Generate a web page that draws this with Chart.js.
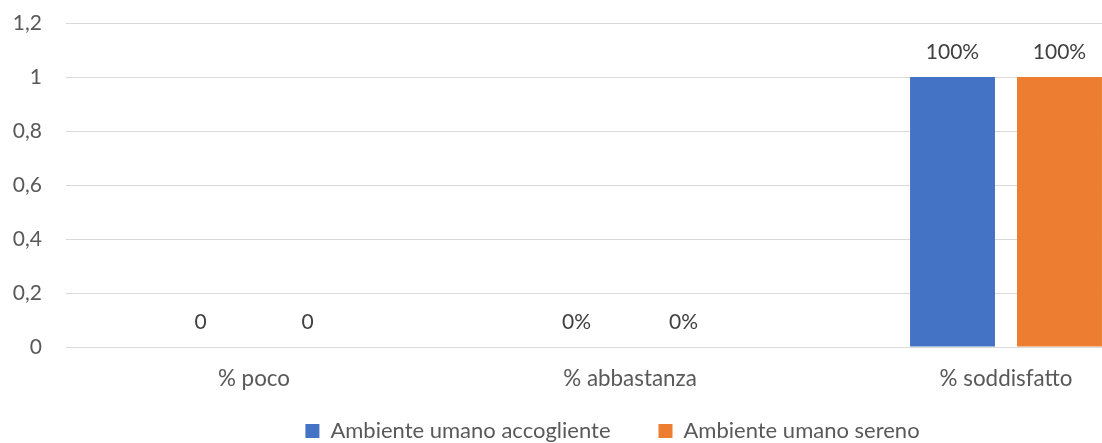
<!DOCTYPE html>
<html><head><meta charset="utf-8">
<script src="https://cdn.jsdelivr.net/npm/chart.js@4.4.0/dist/chart.umd.min.js"></script>
<style>
html,body{margin:0;padding:0;background:#fff;overflow:hidden;width:1102px;height:443px}
#wrap{width:1200px;height:443px;position:relative}
canvas{display:block}
</style></head>
<body><div id="wrap"><canvas id="c" width="1200" height="443"></canvas></div>
<script>
const categories = ['% poco', '% abbastanza', '% soddisfatto'];
const seriesNames = ['Ambiente umano accogliente', 'Ambiente umano sereno'];
const accoglienteValues = [0, 0, 1];
const serenoValues = [0, 0, 1];
const accoglienteLabels = ['0', '0%', '100%'];
const serenoLabels = ['0', '0%', '100%'];
const yTickLabels = ['0', '0,2', '0,4', '0,6', '0,8', '1', '1,2'];

const FONT = 'Lato';
const FS = 21;
const XFS = 22.4;
const LFS = 22;
const LEGEND_PAD = 48;
const BOX = 14;

const barLabels = {
  id: 'barLabels',
  afterDatasetsDraw(chart) {
    const ctx = chart.ctx;
    ctx.save();
    ctx.font = FS + 'px ' + FONT;
    ctx.fillStyle = '#404040';
    ctx.textAlign = 'center';
    ctx.textBaseline = 'middle';
    chart.data.datasets.forEach((ds, di) => {
      const meta = chart.getDatasetMeta(di);
      meta.data.forEach((el, i) => {
        ctx.fillText(ds.valueLabels[i], el.x, el.y - 24.5);
      });
    });
    ctx.restore();
  }
};

const legendPlace = {
  id: 'legendPlace',
  afterLayout(chart) {
    const lg = chart.legend;
    if (!lg) return;
    const h = lg.height, w = lg.width;
    lg.top = 431 - LEGEND_PAD - Math.max(LFS, BOX) / 2;
    lg.bottom = lg.top + h;
    lg.left = 612.5 - w / 2;
    lg.right = lg.left + w;
  }
};

new Chart(document.getElementById('c'), {
  type: 'bar',
  data: {
    labels: categories,
    datasets: [
      { label: seriesNames[0], data: accoglienteValues, valueLabels: accoglienteLabels,
        backgroundColor: '#4472C4', borderWidth: 0,
        barPercentage: 0.794, categoryPercentage: 0.569 },
      { label: seriesNames[1], data: serenoValues, valueLabels: serenoLabels,
        backgroundColor: '#ED7D31', borderWidth: 0,
        barPercentage: 0.794, categoryPercentage: 0.569 }
    ]
  },
  options: {
    responsive: false,
    animation: false,
    devicePixelRatio: 1,
    layout: { padding: { top: 23, right: 6, left: 0, bottom: -29 } },
    plugins: {
      tooltip: { enabled: false },
      legend: {
        position: 'bottom',
        labels: {
          boxWidth: BOX, boxHeight: BOX, padding: LEGEND_PAD,
          color: '#595959', font: { family: FONT, size: LFS }
        }
      }
    },
    scales: {
      x: {
        grid: { display: false, drawTicks: false },
        border: { display: false },
        ticks: { color: '#595959', font: { family: FONT, size: XFS }, padding: 18, maxRotation: 0 },
        afterFit(s) { s.height = 45; }
      },
      y: {
        min: 0, max: 1.2,
        grid: { color: '#d9d9d9', lineWidth: 1, drawTicks: false },
        border: { display: false },
        ticks: { stepSize: 0.2, color: '#595959', font: { family: FONT, size: FS }, padding: 24,
          callback: (v, i) => yTickLabels[i] },
        afterFit(s) { s.width = 66; s.paddingTop = 0; s.paddingBottom = 0; }
      }
    }
  },
  plugins: [barLabels, legendPlace]
});
</script>
</body></html>
